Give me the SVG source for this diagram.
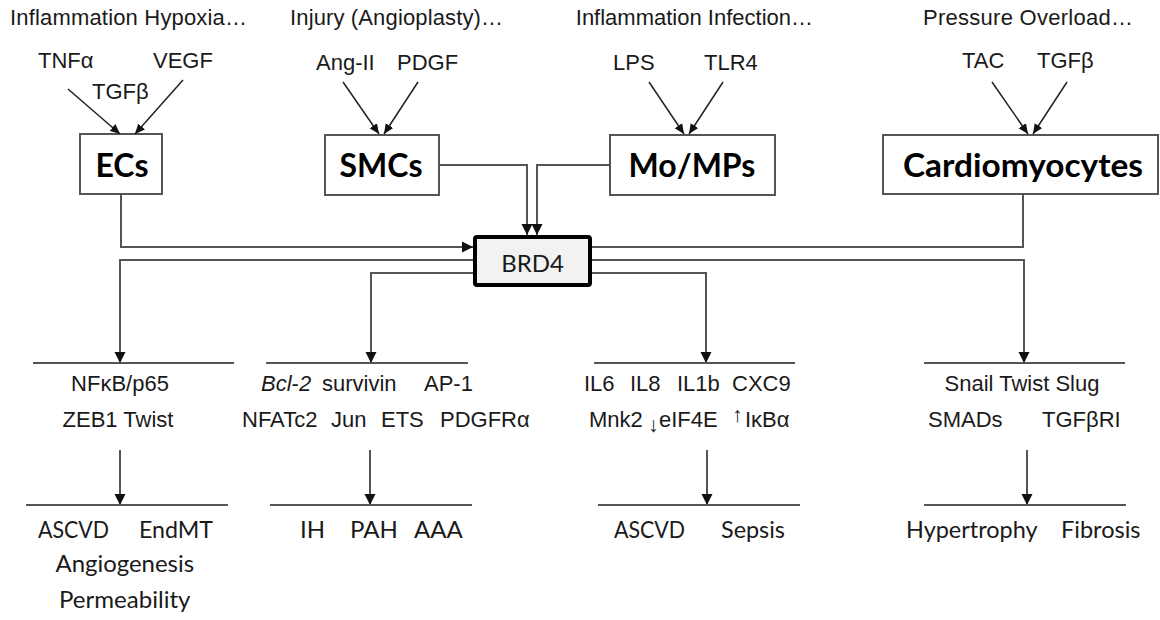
<svg xmlns="http://www.w3.org/2000/svg" width="1160" height="620" viewBox="0 0 1160 620">
<defs>
<style>
.a{font-family:"Liberation Sans",Arial,sans-serif;font-size:22px;fill:#1a1a1a}
.c{font-family:Lato,"Open Sans",sans-serif;font-size:24px;fill:#1a1a1a}
.b{font-family:Lato,"Open Sans",sans-serif;font-size:32px;font-weight:bold;fill:#000}
.box{fill:#fff;stroke:#555;stroke-width:2}
.ln{fill:none;stroke:#555;stroke-width:2}
.tl{fill:none;stroke:#222;stroke-width:1.5}
.rule{stroke:#555;stroke-width:2}
</style>
<marker id="arr" markerUnits="userSpaceOnUse" markerWidth="12" markerHeight="12" refX="11" refY="6" orient="auto" viewBox="0 0 12 12"><path d="M0,0.5 L11,6 L0,11.5 z" fill="#111"/></marker>
<marker id="sarr" markerUnits="userSpaceOnUse" markerWidth="10" markerHeight="10" refX="10" refY="5" orient="auto" viewBox="0 0 10 10"><path d="M0,0.5 L10,5 L0,9.5 z" fill="#111"/></marker>
</defs>
<rect width="1160" height="620" fill="#fff"/>

<g id="headings">
<text class="a" x="10" y="25" textLength="237">Inflammation Hypoxia…</text>
<text class="a" x="290" y="25" textLength="213">Injury (Angioplasty)…</text>
<text class="a" x="813" y="25" text-anchor="end">Inflammation Infection…</text>
<text class="a" x="923" y="25" textLength="210">Pressure Overload…</text>
</g>

<g id="stimuli">
<text class="a" x="38" y="68">TNFα</text>
<text class="a" x="153" y="68">VEGF</text>
<text class="a" x="92" y="99">TGFβ</text>
<text class="a" x="316" y="70">Ang-II</text>
<text class="a" x="397" y="70">PDGF</text>
<text class="a" x="613" y="70">LPS</text>
<text class="a" x="704" y="70">TLR4</text>
<text class="a" x="962" y="68">TAC</text>
<text class="a" x="1037" y="68">TGFβ</text>
</g>

<g id="node-ECs"><rect class="box" x="80" y="134" width="82" height="60"/><text class="b" x="122" y="177" text-anchor="middle">ECs</text></g>
<g id="node-SMCs"><rect class="box" x="325" y="135" width="114" height="60"/><text class="b" x="381" y="177" text-anchor="middle">SMCs</text></g>
<g id="node-MoMPs"><rect class="box" x="610" y="135" width="165" height="60"/><text class="b" x="692" y="177" text-anchor="middle">Mo/MPs</text></g>
<g id="node-Cardiomyocytes"><rect class="box" x="883" y="135" width="275" height="59"/><text class="b" x="903" y="177" textLength="240" lengthAdjust="spacingAndGlyphs">Cardiomyocytes</text></g>
<g id="node-BRD4"><rect x="475" y="237" width="115" height="48" rx="2" fill="#f2f2f2" stroke="#000" stroke-width="4"/><text class="c" x="532.5" y="272" text-anchor="middle" font-size="27">BRD4</text></g>

<g id="connectors">
<line class="tl" x1="68" y1="89" x2="120" y2="134" marker-end="url(#sarr)"/>
<line class="tl" x1="183" y1="80" x2="135" y2="134" marker-end="url(#sarr)"/>
<line class="tl" x1="343" y1="82" x2="379" y2="134" marker-end="url(#sarr)"/>
<line class="tl" x1="418" y1="82" x2="384" y2="134" marker-end="url(#sarr)"/>
<line class="tl" x1="649" y1="82" x2="684" y2="134" marker-end="url(#sarr)"/>
<line class="tl" x1="723" y1="82" x2="689" y2="134" marker-end="url(#sarr)"/>
<line class="tl" x1="992" y1="82" x2="1028" y2="134" marker-end="url(#sarr)"/>
<line class="tl" x1="1067" y1="82" x2="1033" y2="134" marker-end="url(#sarr)"/>
<path class="ln" d="M121,194 V247 H473" marker-end="url(#arr)"/>
<path class="ln" d="M439,165 H527 V235" marker-end="url(#arr)"/>
<path class="ln" d="M610,165 H537 V235" marker-end="url(#arr)"/>
<path class="ln" d="M1023,194 V247 H592"/>
<path class="ln" d="M473,260 H120 V363" marker-end="url(#arr)"/>
<path class="ln" d="M473,273 H371 V363" marker-end="url(#arr)"/>
<path class="ln" d="M592,273 H706 V363" marker-end="url(#arr)"/>
<path class="ln" d="M592,260 H1024 V363" marker-end="url(#arr)"/>
<path class="ln" d="M120,450 V505" marker-end="url(#arr)"/>
<path class="ln" d="M370,450 V505" marker-end="url(#arr)"/>
<path class="ln" d="M707,450 V505" marker-end="url(#arr)"/>
<path class="ln" d="M1027,450 V505" marker-end="url(#arr)"/>
</g>

<g id="rules">
<line class="rule" x1="33" y1="363" x2="234" y2="363"/>
<line class="rule" x1="266" y1="363" x2="468" y2="363"/>
<line class="rule" x1="594" y1="363" x2="795" y2="363"/>
<line class="rule" x1="924" y1="363" x2="1125" y2="363"/>
<line class="rule" x1="26" y1="505" x2="228" y2="505"/>
<line class="rule" x1="270" y1="505" x2="472" y2="505"/>
<line class="rule" x1="598" y1="505" x2="800" y2="505"/>
<line class="rule" x1="924" y1="505" x2="1126" y2="505"/>
</g>

<g id="targets-ECs">
<text class="a" x="120" y="391" text-anchor="middle">NFκB/p65</text>
<text class="a" x="118" y="427" text-anchor="middle">ZEB1 Twist</text>
</g>
<g id="targets-SMCs">
<text class="a" y="391"><tspan x="261" font-style="italic">Bcl</tspan><tspan>-</tspan><tspan font-style="italic">2</tspan><tspan x="322">survivin</tspan><tspan x="424">AP-1</tspan></text>
<text class="a" y="427"><tspan x="242">NFATc2</tspan><tspan x="331">Jun</tspan><tspan x="381">ETS</tspan><tspan x="440">PDGFRα</tspan></text>
</g>
<g id="targets-MoMPs">
<text class="a" y="391"><tspan x="584">IL6</tspan><tspan x="630">IL8</tspan><tspan x="677">IL1b</tspan><tspan x="732">CXC9</tspan></text>
<text class="a" y="427"><tspan x="589">Mnk2</tspan><tspan x="648" dy="5" font-size="21">↓</tspan><tspan x="659" dy="-5">eIF4E</tspan><tspan x="732" dy="-5" font-size="21">↑</tspan><tspan x="745" dy="5">IκBα</tspan></text>
</g>
<g id="targets-Cardiomyocytes">
<text class="a" x="1022" y="391" text-anchor="middle">Snail Twist Slug</text>
<text class="a" y="427"><tspan x="928">SMADs</tspan><tspan x="1042">TGFβRI</tspan></text>
</g>

<g id="outcomes">
<text class="c" y="538"><tspan x="38" textLength="71" lengthAdjust="spacingAndGlyphs">ASCVD</tspan></text>
<text class="c" y="538"><tspan x="139" textLength="74" lengthAdjust="spacingAndGlyphs">EndMT</tspan></text>
<text class="c" x="55.5" y="572" textLength="138.5" lengthAdjust="spacingAndGlyphs">Angiogenesis</text>
<text class="c" x="59" y="608" textLength="131.5" lengthAdjust="spacingAndGlyphs">Permeability</text>
<text class="c" y="538"><tspan x="300">IH</tspan><tspan x="350">PAH</tspan><tspan x="414">AAA</tspan></text>
<text class="c" y="538" x="614" textLength="71" lengthAdjust="spacingAndGlyphs">ASCVD</text>
<text class="c" y="538" x="721" textLength="64" lengthAdjust="spacingAndGlyphs">Sepsis</text>
<text class="c" y="538" x="906" textLength="131.5" lengthAdjust="spacingAndGlyphs">Hypertrophy</text>
<text class="c" y="538" x="1061" textLength="79.5" lengthAdjust="spacingAndGlyphs">Fibrosis</text>
</g>
</svg>
